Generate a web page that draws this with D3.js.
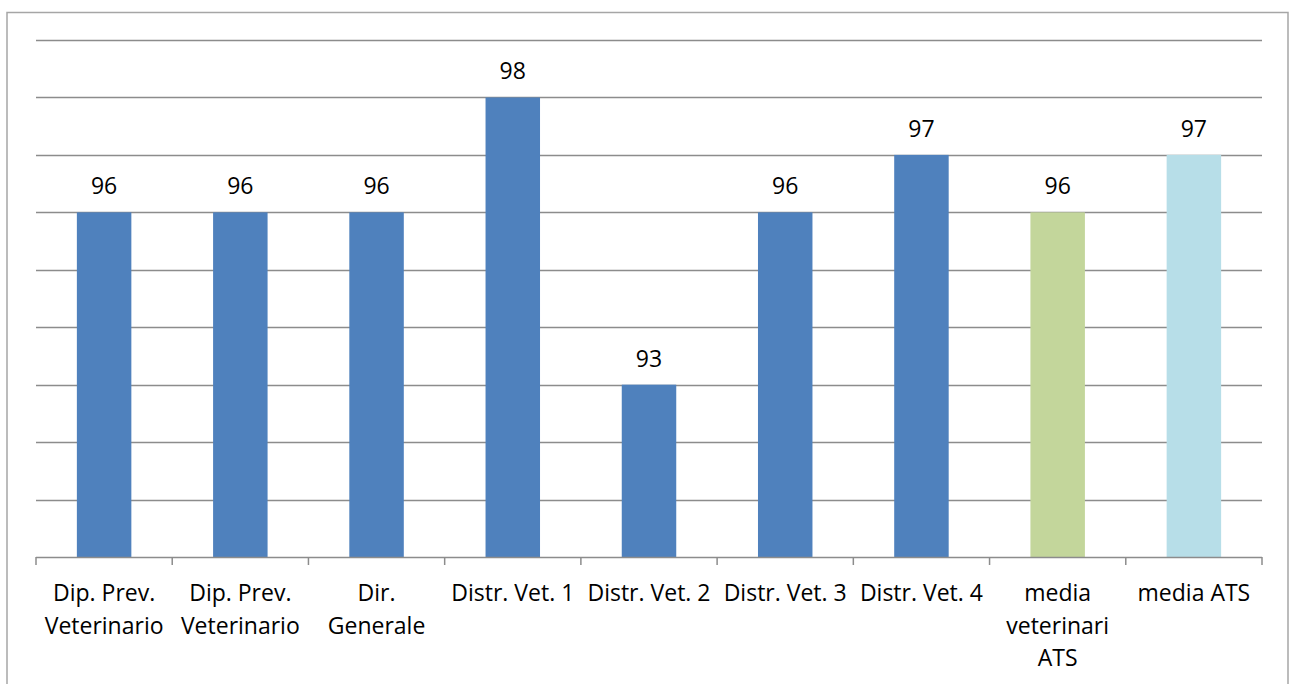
<!DOCTYPE html>
<html>
<head>
<meta charset="utf-8">
<script src="https://cdn.jsdelivr.net/npm/d3@7"></script>
<style>
  body { margin: 0; background: #fff; }
  svg { display: block; font-family: 'Open Sans', Lato, sans-serif; }
</style>
</head>
<body>
<div id="chart"></div>
<script>
const categories = [
  ['Dip. Prev.', 'Veterinario'],
  ['Dip. Prev.', 'Veterinario'],
  ['Dir.', 'Generale'],
  ['Distr. Vet. 1'],
  ['Distr. Vet. 2'],
  ['Distr. Vet. 3'],
  ['Distr. Vet. 4'],
  ['media', 'veterinari', 'ATS'],
  ['media ATS'],
];
const values = [96, 96, 96, 98, 93, 96, 97, 96, 97];
const barColors = ['#4F81BD', '#4F81BD', '#4F81BD', '#4F81BD', '#4F81BD', '#4F81BD', '#4F81BD', '#C3D69B', '#B7DEE8'];
const gridTicks = [90, 91, 92, 93, 94, 95, 96, 97, 98, 99];

const W = 1291, H = 684;
const margin = { top: 40, right: 29, bottom: 127, left: 36 };
const width = W - margin.left - margin.right;
const height = H - margin.top - margin.bottom;
const fontSize = '23px';

const root = d3.select('#chart').append('svg').attr('width', W).attr('height', H);

// outer chart frame
root.append('rect')
  .attr('x', 7).attr('y', 12.5)
  .attr('width', 1281).attr('height', 700)
  .attr('fill', 'none').attr('stroke', '#a6a6a6').attr('stroke-width', 1.5);

const svg = root.append('g').attr('transform', `translate(${margin.left},${margin.top})`);

const idx = d3.range(categories.length);
const x = d3.scaleBand().domain(idx).range([0, width]).padding(0);
const y = d3.scaleLinear().domain([90, 99]).range([height, 0]);
const barW = x.bandwidth() * 0.4;

svg.selectAll('line.grid')
  .data(gridTicks.slice(1))
  .enter().append('line')
  .attr('class', 'grid')
  .attr('x1', 0).attr('x2', width)
  .attr('y1', d => Math.round(y(d)) + 0.5).attr('y2', d => Math.round(y(d)) + 0.5)
  .attr('stroke', '#8c8c8c').attr('stroke-width', 1.5);

svg.selectAll('rect.bar')
  .data(values)
  .enter().append('rect')
  .attr('class', 'bar')
  .attr('x', (d, i) => x(i) + (x.bandwidth() - barW) / 2)
  .attr('y', d => y(d))
  .attr('width', barW)
  .attr('height', d => height - y(d))
  .attr('fill', (d, i) => barColors[i]);

svg.selectAll('text.val')
  .data(values)
  .enter().append('text')
  .attr('class', 'val')
  .attr('x', (d, i) => x(i) + x.bandwidth() / 2)
  .attr('y', d => y(d) - 18)
  .attr('text-anchor', 'middle')
  .style('font-size', fontSize)
  .attr('fill', '#000')
  .text(d => d);

// category axis with ticks at band edges
const axis = svg.append('g').attr('transform', `translate(0,${height})`);
axis.append('line')
  .attr('x1', 0).attr('x2', width).attr('y1', 0.5).attr('y2', 0.5)
  .attr('stroke', '#8c8c8c').attr('stroke-width', 1.5);
axis.selectAll('line.tick')
  .data(d3.range(categories.length + 1))
  .enter().append('line')
  .attr('class', 'tick')
  .attr('x1', i => i * x.step()).attr('x2', i => i * x.step())
  .attr('y1', 0).attr('y2', 8)
  .attr('stroke', '#8c8c8c').attr('stroke-width', 1.5);

const labels = axis.selectAll('text.cat')
  .data(categories)
  .enter().append('text')
  .attr('class', 'cat')
  .attr('text-anchor', 'middle')
  .style('font-size', fontSize)
  .attr('fill', '#000');
labels.selectAll('tspan')
  .data((d, i) => d.map(t => ({ t, i })))
  .enter().append('tspan')
  .attr('x', d => x(d.i) + x.bandwidth() / 2)
  .attr('y', (d, j) => 44 + j * 32.5)
  .text(d => d.t);
</script>
</body>
</html>
